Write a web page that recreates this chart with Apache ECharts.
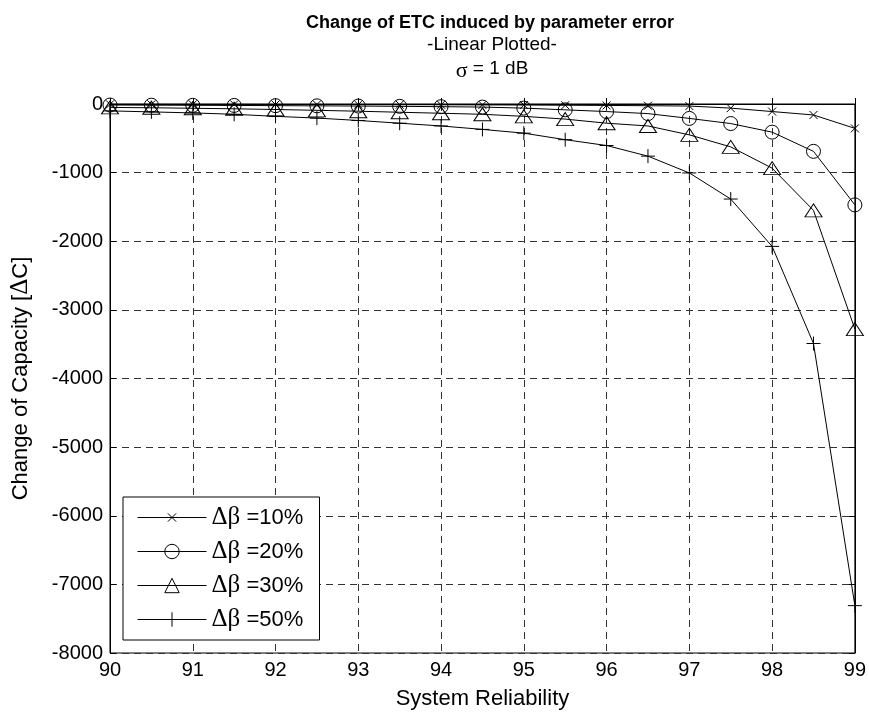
<!DOCTYPE html>
<html>
<head>
<meta charset="utf-8">
<script src="https://cdn.jsdelivr.net/npm/echarts@6/dist/echarts.min.js"></script>
<style>html,body{margin:0;padding:0;background:#fff;}#c{width:869px;height:715px;}</style>
</head>
<body>
<div id="c"></div>
<script>
const reliability = [90, 90.5, 91, 91.5, 92, 92.5, 93, 93.5, 94, 94.5, 95, 95.5, 96, 96.5, 97, 97.5, 98, 98.5, 99];
const beta10 = [-5, -5, -6, -6, -7, -8, -9, -10, -11, -13, -15, -18, -21, -25, -30, -60, -110, -160, -355];
const beta20 = [-15, -17, -19, -21, -24, -27, -30, -34, -39, -45, -60, -85, -110, -140, -210, -285, -410, -690, -1470];
const beta30 = [-50, -55, -62, -70, -80, -92, -105, -120, -135, -150, -180, -220, -280, -320, -450, -625, -935, -1550, -3280];
const beta50 = [-100, -115, -130, -150, -180, -205, -240, -280, -320, -370, -425, -520, -605, -760, -1005, -1385, -2075, -3490, -7310];
const seriesNames = ['10%', '20%', '30%', '50%'];
const xTicks = [90, 91, 92, 93, 94, 95, 96, 97, 98, 99];
const yTicks = [-8000, -7000, -6000, -5000, -4000, -3000, -2000, -1000, 0];

const FONT = 'Liberation Sans, Arial, sans-serif';
const SYM = 'Liberation Serif, Times New Roman, serif';

function pairs(ys) { return reliability.map((x, i) => [x, ys[i]]); }

const markerDefs = [
  { symbol: 'path://M0,0L0,0M3,3L11,11M11,3L3,11M14,14L14,14', size: 14 },
  { symbol: 'circle', size: 14 },
  { symbol: 'triangle', size: [17, 13] },
  { symbol: 'path://M7,0L7,14M0,7L14,7', size: 14 }
];
const allData = [beta10, beta20, beta30, beta50];

const series = allData.map((d, i) => ({
  name: seriesNames[i],
  type: 'line',
  data: pairs(d),
  symbol: markerDefs[i].symbol,
  symbolSize: markerDefs[i].size,
  showAllSymbol: true,
  clip: false,
  lineStyle: { color: '#000', width: 1 },
  itemStyle: { color: 'rgba(0,0,0,0)', borderColor: '#000', borderWidth: 1 },
  emphasis: { disabled: true }
}));

const gridStyle = { show: true, lineStyle: { color: '#333', type: [7, 5], width: 1 } };

const option = {
  animation: false,
  backgroundColor: '#fff',
  title: [
    { text: 'Change of ETC induced by parameter error', left: 485, top: 9, textAlign: 'center',
      textStyle: { fontFamily: FONT, fontSize: 18, fontWeight: 'bold', color: '#000' } },
    { text: '-Linear Plotted-', left: 487, top: 30, textAlign: 'center',
      textStyle: { fontFamily: FONT, fontSize: 19, fontWeight: 'normal', color: '#000' } },
    { text: '{s|σ} = 1 dB', left: 487, top: 51, textAlign: 'center',
      textStyle: { fontFamily: FONT, fontSize: 19, fontWeight: 'normal', color: '#000',
        rich: { s: { fontFamily: SYM, fontSize: 22, color: '#000', padding: [4, 0, 0, 0] } } } }
  ],
  grid: { left: 108, right: 11, top: 104, bottom: 58, show: true, borderColor: '#000', borderWidth: 1, backgroundColor: '#fff' },
  legend: {
    show: true,
    orient: 'vertical',
    left: 123, top: 497,
    padding: [8, 6, 8, 14],
    itemWidth: 69, itemHeight: 18, itemGap: 9,
    backgroundColor: '#fff', borderColor: '#000', borderWidth: 1, borderRadius: 0,
    selectedMode: false,
    lineStyle: { width: 1, color: '#000' },
    itemStyle: { borderWidth: 1, borderColor: '#000', color: 'rgba(0,0,0,0)' },
    formatter: n => '{g|Δβ} {t|=' + n + '}',
    textStyle: {
      fontFamily: FONT, fontSize: 22, color: '#000', lineHeight: 22, width: 102,
      rich: {
        g: { fontFamily: SYM, fontSize: 25, color: '#000', lineHeight: 22 },
        t: { fontFamily: FONT, fontSize: 22, color: '#000', lineHeight: 22 }
      }
    },
    data: seriesNames
  },
  xAxis: [
    { type: 'value', min: 90, max: 99, interval: 1, position: 'bottom',
      name: 'System Reliability', nameLocation: 'middle', nameGap: 35,
      nameTextStyle: { fontFamily: FONT, fontSize: 22, color: '#000' },
      axisLine: { show: true, lineStyle: { color: '#000', width: 1 } },
      axisTick: { show: true, inside: true, length: 6, lineStyle: { color: '#000' } },
      axisLabel: { fontFamily: FONT, fontSize: 20, color: '#000', margin: 7,
        customValues: xTicks, formatter: v => String(v) },
      splitLine: gridStyle },
    { type: 'value', min: 90, max: 99, interval: 1, position: 'top',
      axisLine: { show: true, lineStyle: { color: '#000', width: 1 } },
      axisTick: { show: true, inside: true, length: 6, lineStyle: { color: '#000' } },
      axisLabel: { show: false }, splitLine: { show: false } }
  ],
  yAxis: [
    { type: 'value', min: -8000, max: 0, interval: 1000, position: 'left',
      name: 'Change of Capacity [{d|Δ}C]', nameLocation: 'middle', nameGap: 77,
      nameTextStyle: { fontFamily: FONT, fontSize: 22, color: '#000',
        rich: { d: { fontFamily: SYM, fontSize: 25, color: '#000' } } },
      axisLine: { show: true, lineStyle: { color: '#000', width: 1 } },
      axisTick: { show: true, inside: true, length: 6, lineStyle: { color: '#000' } },
      axisLabel: { fontFamily: FONT, fontSize: 20, color: '#000', margin: 7,
        customValues: yTicks, formatter: v => String(v) },
      splitLine: gridStyle },
    { type: 'value', min: -8000, max: 0, interval: 1000, position: 'right',
      axisLine: { show: true, lineStyle: { color: '#000', width: 1 } },
      axisTick: { show: true, inside: true, length: 6, lineStyle: { color: '#000' } },
      axisLabel: { show: false }, splitLine: { show: false } }
  ],
  series: series
};

const chart = echarts.init(document.getElementById('c'), null, { renderer: 'canvas' });
chart.setOption(option);
</script>
</body>
</html>
